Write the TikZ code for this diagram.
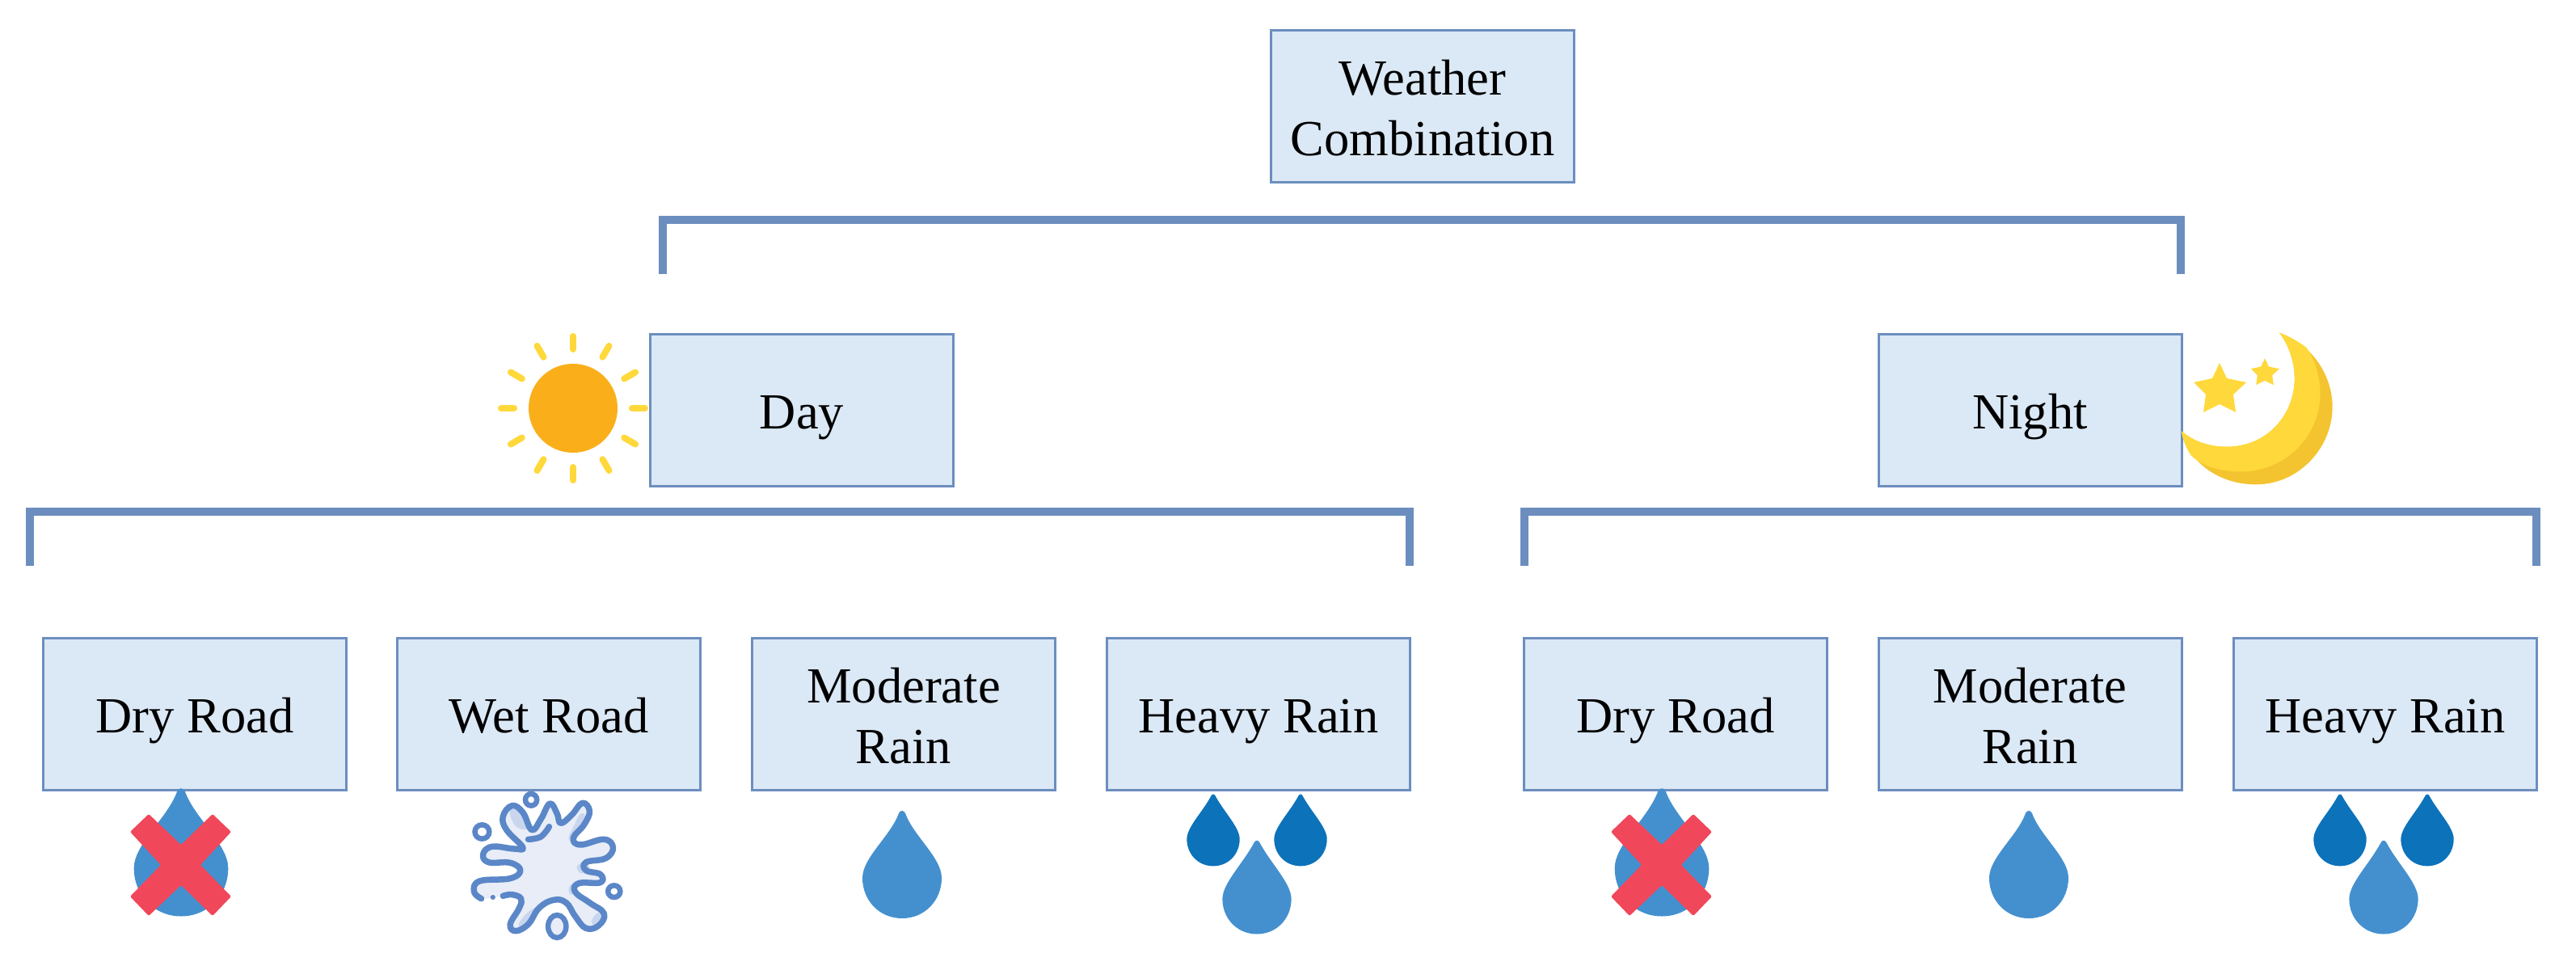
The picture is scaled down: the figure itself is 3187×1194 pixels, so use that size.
\documentclass[tikz,border=0pt]{standalone}
\usepackage{fontspec}
\setmainfont{Liberation Serif}
\definecolor{edgeblue}{HTML}{6C8EBF}
\definecolor{boxfill}{HTML}{DBE8F5}
\definecolor{sunorange}{HTML}{FAAF1A}
\definecolor{sunyellow}{HTML}{FFD83B}
\definecolor{moondark}{HTML}{F4C430}
\definecolor{droplight}{HTML}{4490CF}
\definecolor{dropdark}{HTML}{0C72BA}
\definecolor{crossred}{HTML}{F0475A}
\definecolor{splashline}{HTML}{5B87C8}
\definecolor{splashfill}{HTML}{E8EDF7}
\definecolor{splashshade}{HTML}{C9D6EE}
\newcommand{\lineup}{\rule{0pt}{48.5pt}}
\tikzset{
  x=1pt,y=-1pt,
  wbox/.style={draw=edgeblue,fill=boxfill,line width=3pt,minimum width=375pt,minimum height=188pt,inner sep=0pt,align=center,font=\fontsize{62.5}{75}\selectfont},
  onel/.style={text height=58pt,text depth=12pt},
  bracket/.style={draw=edgeblue,line width=10pt,miter limit=10},
  pics/drop/.style={code={
    \fill[#1] (-4,-80) .. controls (-2,-84) and (2,-84) .. (4,-80) .. controls (14,-52) and (49,-25) .. (49,0) .. controls (49,28) and (28,50) .. (0,50) .. controls (-28,50) and (-49,28) .. (-49,0) .. controls (-49,-25) and (-14,-52) .. (-4,-80) -- cycle;
  }},
  pics/dropstraight/.style={code={
    \fill[#1] (-4,-80) .. controls (-2,-84) and (2,-84) .. (4,-80) .. controls (20,-50) and (49,-22) .. (49,0) .. controls (49,28) and (28,50) .. (0,50) .. controls (-28,50) and (-49,28) .. (-49,0) .. controls (-49,-22) and (-20,-50) .. (-4,-80) -- cycle;
  }},
  pics/redcross/.style={code={
    \fill[crossred,rounded corners=2pt] (184,1007) -- (224,1045) -- (263,1007) -- (286,1029) -- (248,1070) -- (286,1109) -- (263,1133) -- (224,1095) -- (184,1133) -- (161,1109) -- (199,1070) -- (161,1029) -- cycle;
  }},
  pics/starshape/.style={code={
    \fill[sunyellow] (0,-31) -- (9,-12) -- (33,-7) -- (17,8) -- (20,30) -- (0,20) -- (-20,30) -- (-17,8) -- (-32,-7) -- (-9,-12) -- cycle;
  }},
}
\begin{document}
\begin{tikzpicture}
\useasboundingbox (0,0) rectangle (3187,1194);
% boxes
\node[wbox] (weather) at (1760,131) {\lineup Weather\\Combination};
\node[wbox,onel] (day) at (992,507) {Day};
\node[wbox,onel] (night) at (2511.5,507) {Night};
\node[wbox,onel] (d1) at (241,883.5) {Dry Road};
\node[wbox,onel] (d2) at (679,883.5) {Wet Road};
\node[wbox] (d3) at (1118,883.5) {\lineup Moderate\\Rain};
\node[wbox,onel] (d4) at (1557,883.5) {Heavy Rain};
\node[wbox,onel] (n1) at (2073,883.5) {Dry Road};
\node[wbox] (n2) at (2511.5,883.5) {\lineup Moderate\\Rain};
\node[wbox,onel] (n3) at (2951,883.5) {Heavy Rain};
% brackets
\coordinate (ta) at (820,339); \coordinate (tb) at (820,272);
\coordinate (tc) at (2698,272); \coordinate (td) at (2698,339);
\draw[bracket] (ta) -- (tb) -- (tc) -- (td);
\coordinate (la) at (37,700); \coordinate (lb) at (37,632.5);
\coordinate (lc) at (1744,632.5); \coordinate (ld) at (1744,700);
\draw[bracket] (la) -- (lb) -- (lc) -- (ld);
\coordinate (ra) at (1885.5,700); \coordinate (rb) at (1885.5,632.5);
\coordinate (rc) at (3138,632.5); \coordinate (rd) at (3138,700);
\draw[bracket] (ra) -- (rb) -- (rc) -- (rd);
% sun
\fill[sunorange] (709,505) circle[radius=55];
\foreach \a in {0,30,...,330}
  \draw[sunyellow,line width=8pt,line cap=round] ({709+73*cos(\a)},{505+73*sin(\a)}) -- ({709+89*cos(\a)},{505+89*sin(\a)});
% moon
\begin{scope}[shift={(2300,380)},xscale=0.4464,yscale=0.3333]
  \fill[moondark] (1165,95) .. controls (1260,140) and (1312,260) .. (1312,370) .. controls (1312,520) and (1220,658) .. (1100,658) .. controls (1000,658) and (915,580) .. (893,460) .. controls (930,500) and (970,518) .. (1020,518) .. controls (1130,518) and (1207,400) .. (1207,265) .. controls (1207,200) and (1190,140) .. (1165,95) -- cycle;
  \fill[sunyellow] (1165,95) .. controls (1195,110) and (1220,130) .. (1240,150) .. controls (1265,200) and (1278,260) .. (1278,320) .. controls (1278,480) and (1180,610) .. (1060,610) .. controls (1000,610) and (950,590) .. (920,550) .. controls (905,520) and (897,490) .. (893,460) .. controls (930,500) and (970,518) .. (1020,518) .. controls (1130,518) and (1207,400) .. (1207,265) .. controls (1207,200) and (1190,140) .. (1165,95) -- cycle;
\end{scope}
\pic at (2746,480) {starshape};
\pic[scale=0.54] at (2802,460) {starshape};
% drops
\pic[scale=1.19] at (224,1074) {drop=droplight};
\pic at (0,0) {redcross};
\pic at (1116,1086) {drop=droplight};
\pic[scale=0.667] at (1501,1038) {dropstraight=dropdark};
\pic[scale=0.667] at (1609,1038) {dropstraight=dropdark};
\pic[scale=0.87] at (1555,1112) {dropstraight=droplight};
\pic[scale=1.19] at (2056,1074) {drop=droplight};
\pic at (1832,0) {redcross};
\pic at (2510,1086) {drop=droplight};
\pic[scale=0.667] at (2895,1038) {dropstraight=dropdark};
\pic[scale=0.667] at (3003,1038) {dropstraight=dropdark};
\pic[scale=0.87] at (2949,1112) {dropstraight=droplight};
% splash
\begin{scope}[shift={(100,940)},xscale=0.4464,yscale=0.3333]
  \fill[splashfill,xshift=3pt] plot[smooth cycle,tension=0.7] coordinates {(1090,490) (1105,450) (1190,440) (1218,410) (1190,382) (1130,380) (1115,350) (1140,322) (1200,330) (1225,325) (1180,260) (1170,210) (1195,170) (1225,195) (1250,260) (1275,220) (1300,162) (1320,200) (1330,235) (1360,205) (1390,160) (1410,190) (1395,240) (1365,290) (1385,315) (1450,295) (1475,325) (1455,365) (1400,380) (1400,410) (1440,425) (1440,455) (1380,458) (1370,490) (1410,530) (1450,570) (1435,615) (1400,625) (1370,580) (1345,530) (1310,520) (1270,550) (1240,610) (1205,635) (1190,610) (1215,550) (1220,515) (1195,500) (1110,515)};
  \fill[splashshade] plot[smooth cycle,tension=0.7] coordinates {(1190,185) (1215,195) (1240,250) (1215,255) (1195,225)};
  \fill[splashshade] plot[smooth cycle,tension=0.7] coordinates {(1385,200) (1400,215) (1385,250) (1365,300) (1352,290) (1365,250)};
  \fill[splashshade] plot[smooth cycle,tension=0.7] coordinates {(1400,380) (1410,410) (1385,420) (1375,395)};
  \fill[splashshade] plot[smooth cycle,tension=0.7] coordinates {(1380,460) (1360,500) (1352,480) (1360,462)};
  \fill[splashshade] plot[smooth cycle,tension=0.7] coordinates {(1300,530) (1260,560) (1225,620) (1215,605) (1250,555)};
  \fill[splashshade] plot[smooth cycle,tension=0.7] coordinates {(1445,575) (1425,610) (1415,600) (1430,570)};
  \draw[splashline,line width=7.5pt,line cap=round,line join=round] plot[smooth,tension=0.7] coordinates {(1110,515) (1090,490) (1105,450) (1190,440) (1218,410) (1190,382) (1130,380) (1115,350) (1140,322) (1200,330) (1225,325) (1180,260) (1170,210) (1195,170) (1225,195) (1250,260) (1275,220) (1300,162) (1320,200) (1330,235) (1360,205) (1390,160) (1410,190) (1395,240) (1365,290) (1385,315) (1450,295) (1475,325) (1455,365) (1400,380) (1400,410) (1440,425) (1440,455) (1380,458) (1370,490) (1410,530) (1450,570) (1435,615) (1400,625) (1370,580) (1345,530) (1310,520) (1270,550) (1240,610) (1205,635) (1190,610) (1215,550) (1220,515) (1195,500) (1170,505)};
  \draw[splashline,line width=7.5pt,line cap=round] plot[smooth,tension=0.7] coordinates {(1298,248) (1275,285) (1240,295)};
  \fill[splashline] (1142,510) ellipse[x radius=7,y radius=9];
  \draw[splashline,line width=6.5pt] (1248,148) ellipse[x radius=16,y radius=22];
  \draw[splashline,line width=6.5pt] (1112,267) ellipse[x radius=20,y radius=26];
  \draw[splashline,line width=6.5pt] (1478,488) ellipse[x radius=17,y radius=22];
  \draw[splashline,line width=6.5pt,fill=splashfill] (1320,618) ellipse[x radius=25,y radius=42];
\end{scope}
\end{tikzpicture}
\end{document}
